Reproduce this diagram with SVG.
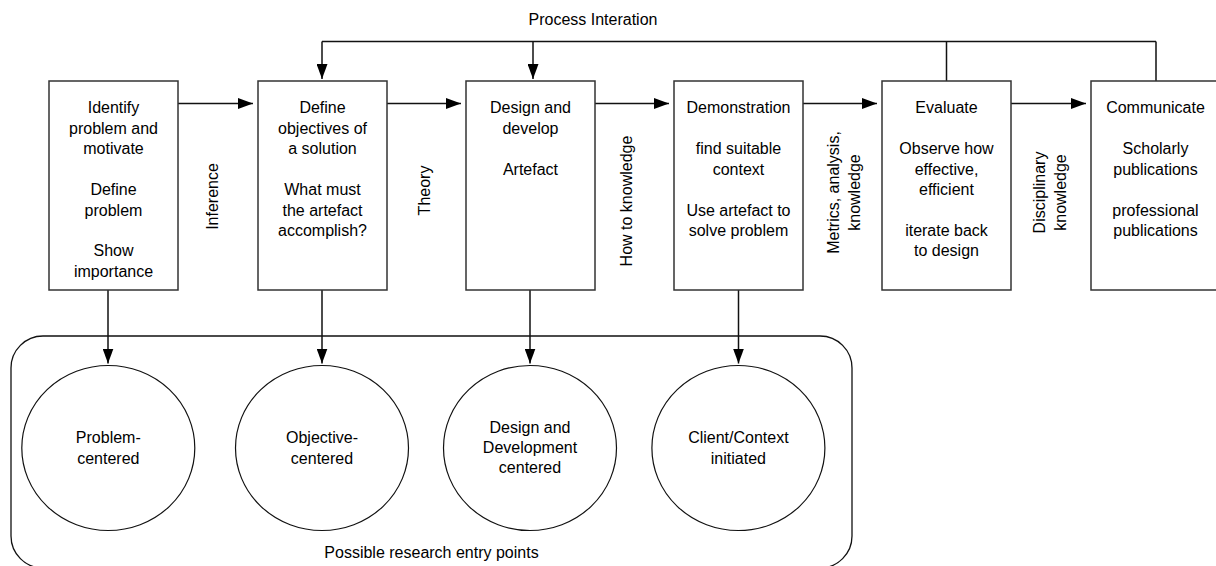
<svg xmlns="http://www.w3.org/2000/svg" width="1216" height="566" viewBox="0 0 1216 566">
  <style>
    text { font-family: "Liberation Sans", Arial, sans-serif; font-size: 16px; fill: #000; }
    .c { text-anchor: middle; }
    .box { fill: #fff; stroke: #333; stroke-width: 1.5; }
    .ent { fill: #fff; stroke: #111; stroke-width: 1.2; }
    .wire { fill: none; stroke: #111; stroke-width: 1.5; }
    .frame { fill: none; stroke: #111; stroke-width: 1.3; }
  </style>
  <defs>
    <marker id="ah" viewBox="0 0 15 11" refX="15" refY="5.5" markerWidth="15" markerHeight="11" markerUnits="userSpaceOnUse" orient="auto">
      <path d="M0,0 L15,5.5 L0,11 Z" fill="#000"/>
    </marker>
  </defs>

  <rect width="1216" height="566" fill="#fff"/>

  <!-- container of research entry points -->
  <g id="entry-points">
    <rect class="frame" x="11" y="336" width="841" height="232" rx="32" ry="32"/>
    <text class="c" x="431.5" y="558">Possible research entry points</text>
  </g>

  <!-- connectors -->
  <g id="connectors">
    <!-- process iteration feedback -->
    <path class="wire" d="M946.5,81 V41.5 M1156,81 V41.5 M322,41.5 H1156"/>
    <path class="wire" d="M322,41.5 V79" marker-end="url(#ah)"/>
    <path class="wire" d="M533,41.5 V79" marker-end="url(#ah)"/>
    <!-- main flow -->
    <path class="wire" d="M178,103.5 H253" marker-end="url(#ah)"/>
    <path class="wire" d="M387,103.5 H461" marker-end="url(#ah)"/>
    <path class="wire" d="M595,103.5 H669" marker-end="url(#ah)"/>
    <path class="wire" d="M803,103.5 H877" marker-end="url(#ah)"/>
    <path class="wire" d="M1011,103.5 H1086" marker-end="url(#ah)"/>
    <!-- entry points -->
    <path class="wire" d="M108,290 V363.5" marker-end="url(#ah)"/>
    <path class="wire" d="M322,290 V363.5" marker-end="url(#ah)"/>
    <path class="wire" d="M530,290 V363.5" marker-end="url(#ah)"/>
    <path class="wire" d="M738.5,290 V363.5" marker-end="url(#ah)"/>
  </g>

  <!-- flow labels -->
  <g id="labels">
    <text class="c" x="593" y="25">Process Interation</text>
    <text class="c" transform="translate(218,196.5) rotate(-90)">Inference</text>
    <text class="c" transform="translate(430,190.5) rotate(-90)">Theory</text>
    <text class="c" transform="translate(632,201) rotate(-90)">How to knowledge</text>
    <text class="c" transform="translate(839,192.5) rotate(-90)"><tspan x="0" y="0">Metrics, analysis,</tspan><tspan x="0" y="21">knowledge</tspan></text>
    <text class="c" transform="translate(1045,192.5) rotate(-90)"><tspan x="0" y="0">Disciplinary</tspan><tspan x="0" y="21">knowledge</tspan></text>
  </g>

  <!-- process steps -->
  <g id="identify">
    <rect class="box" x="49" y="81" width="129" height="209"/>
    <text class="c"><tspan x="113.5" y="113">Identify</tspan><tspan x="113.5" y="133.5">problem and</tspan><tspan x="113.5" y="154">motivate</tspan><tspan x="113.5" y="195">Define</tspan><tspan x="113.5" y="215.5">problem</tspan><tspan x="113.5" y="256">Show</tspan><tspan x="113.5" y="276.5">importance</tspan></text>
  </g>
  <g id="objectives">
    <rect class="box" x="258" y="81" width="129" height="209"/>
    <text class="c"><tspan x="322.5" y="113">Define</tspan><tspan x="322.5" y="133.5">objectives of</tspan><tspan x="322.5" y="154">a solution</tspan><tspan x="322.5" y="195">What must</tspan><tspan x="322.5" y="215.5">the artefact</tspan><tspan x="322.5" y="236">accomplish?</tspan></text>
  </g>
  <g id="design">
    <rect class="box" x="466" y="81" width="129" height="209"/>
    <text class="c"><tspan x="530.5" y="113">Design and</tspan><tspan x="530.5" y="133.5">develop</tspan><tspan x="530.5" y="174.5">Artefact</tspan></text>
  </g>
  <g id="demonstration">
    <rect class="box" x="674" y="81" width="129" height="209"/>
    <text class="c"><tspan x="738.5" y="113">Demonstration</tspan><tspan x="738.5" y="154">find suitable</tspan><tspan x="738.5" y="174.5">context</tspan><tspan x="738.5" y="215.5">Use artefact to</tspan><tspan x="738.5" y="236">solve problem</tspan></text>
  </g>
  <g id="evaluate">
    <rect class="box" x="882" y="81" width="129" height="209"/>
    <text class="c"><tspan x="946.5" y="113">Evaluate</tspan><tspan x="946.5" y="154">Observe how</tspan><tspan x="946.5" y="174.5">effective,</tspan><tspan x="946.5" y="195">efficient</tspan><tspan x="946.5" y="236">iterate back</tspan><tspan x="946.5" y="256">to design</tspan></text>
  </g>
  <g id="communicate">
    <rect class="box" x="1091" y="81" width="129" height="209"/>
    <text class="c"><tspan x="1155.5" y="113">Communicate</tspan><tspan x="1155.5" y="154">Scholarly</tspan><tspan x="1155.5" y="174.5">publications</tspan><tspan x="1155.5" y="215.5">professional</tspan><tspan x="1155.5" y="236">publications</tspan></text>
  </g>

  <!-- entry point circles -->
  <g id="problem-centered">
    <ellipse class="ent" cx="108.3" cy="448" rx="86.5" ry="82.5"/>
    <text class="c"><tspan x="108.3" y="443.3">Problem-</tspan><tspan x="108.3" y="463.5">centered</tspan></text>
  </g>
  <g id="objective-centered">
    <ellipse class="ent" cx="322" cy="448" rx="86.5" ry="82.5"/>
    <text class="c"><tspan x="322" y="443.3">Objective-</tspan><tspan x="322" y="463.5">centered</tspan></text>
  </g>
  <g id="design-centered">
    <ellipse class="ent" cx="530" cy="448" rx="86.5" ry="82.5"/>
    <text class="c"><tspan x="530" y="432.8">Design and</tspan><tspan x="530" y="453.1">Development</tspan><tspan x="530" y="473.4">centered</tspan></text>
  </g>
  <g id="client-initiated">
    <ellipse class="ent" cx="738.4" cy="448" rx="86.5" ry="82.5"/>
    <text class="c"><tspan x="738.4" y="443.3">Client/Context</tspan><tspan x="738.4" y="463.5">initiated</tspan></text>
  </g>
</svg>
